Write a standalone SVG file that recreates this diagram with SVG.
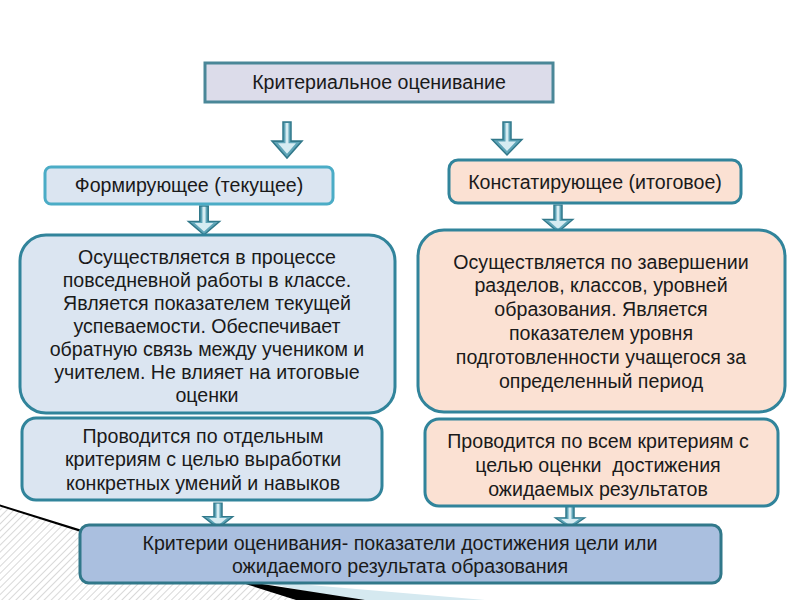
<svg xmlns="http://www.w3.org/2000/svg" width="800" height="600" viewBox="0 0 800 600">
<style>
  text { font-family: "Liberation Sans", Arial, sans-serif; font-size: 19.6px; fill: #1a1a1a; text-anchor: middle; }
  .blue { fill: #dbe5f1; stroke: #31849b; stroke-width: 3; }
  .peach { fill: #fbe1d3; stroke: #31849b; stroke-width: 3; }
  .arrow { fill: #5fa5b8; stroke: #31788a; stroke-width: 1.5; stroke-linejoin: miter; }
  .arrowin { fill: #d6ecf2; }
</style>
<defs>
  <pattern id="hatch" patternUnits="userSpaceOnUse" width="5" height="5" patternTransform="rotate(45)">
    <rect width="5" height="5" fill="#ffffff"/>
    <line x1="0" y1="0" x2="0" y2="5" stroke="#cfcfcf" stroke-width="1.6"/>
  </pattern>
  <g id="arr">
    <path class="arrow" d="M-4,0 H4 V18 H15 L0,34 L-15,18 H-4 Z"/>
    <path class="arrowin" d="M-1.5,1 H1.5 V20 H9 L0,30 L-9,20 H-1.5 Z"/>
  </g>
</defs>
<rect width="800" height="600" fill="#ffffff"/>
<g id="decoration">
  <polygon points="0,505 80,530 304,600 0,600" fill="url(#hatch)"/>
  <polygon points="250,580 485,600 350,600" fill="#d5e9f0"/>
  <polygon points="0,504.5 250,582 365,600 296,600 0,506.5" fill="#000000"/>
</g>
<g id="connectors">
  <use href="#arr" transform="translate(287,122) scale(1,1.06)"/>
  <use href="#arr" transform="translate(507,122) scale(1,0.97)"/>
  <use href="#arr" transform="translate(204,206) scale(1.05,0.85)"/>
  <use href="#arr" transform="translate(558,205) scale(1,0.8)"/>
  <use href="#arr" transform="translate(218,503) scale(1,0.75)"/>
  <use href="#arr" transform="translate(570,506) scale(1,0.65)"/>
</g>
<g id="top">
  <rect x="205" y="63" width="348" height="39" fill="#dcdcea" stroke="#4a8798" stroke-width="3"/>
  <text x="379" y="89">Критериальное оценивание</text>
</g>
<g id="formative">
  <rect x="45" y="167" width="288" height="37" rx="6" fill="#dbe5f1" stroke="#4bacc6" stroke-width="3"/>
  <text x="189" y="192">Формирующее (текущее)</text>
</g>
<g id="summative">
  <rect x="449" y="160" width="292" height="43" rx="9" class="peach"/>
  <text x="595" y="189">Констатирующее (итоговое)</text>
</g>
<g id="formative-desc">
  <rect x="20" y="235" width="375" height="178" rx="26" class="blue"/>
  <text x="207" y="264">Осуществляется в процессе</text>
  <text x="207" y="287">повседневной работы в классе.</text>
  <text x="207" y="310">Является показателем текущей</text>
  <text x="207" y="333">успеваемости. Обеспечивает</text>
  <text x="207" y="356">обратную связь между учеником и</text>
  <text x="207" y="379">учителем. Не влияет на итоговые</text>
  <text x="207" y="402">оценки</text>
</g>
<g id="summative-desc">
  <rect x="418" y="230" width="367" height="182" rx="26" class="peach"/>
  <text x="601" y="269">Осуществляется по завершении</text>
  <text x="601" y="292">разделов, классов, уровней</text>
  <text x="601" y="316">образования. Является</text>
  <text x="601" y="340">показателем уровня</text>
  <text x="601" y="364">подготовленности учащегося за</text>
  <text x="601" y="388">определенный период</text>
</g>
<g id="formative-criteria">
  <rect x="22" y="418" width="360" height="82" rx="14" class="blue"/>
  <text x="203" y="443">Проводится по отдельным</text>
  <text x="203" y="466">критериям с целью выработки</text>
  <text x="203" y="490">конкретных умений и навыков</text>
</g>
<g id="summative-criteria">
  <rect x="425" y="419" width="353" height="87" rx="14" class="peach"/>
  <text x="598" y="448">Проводится по всем критериям с</text>
  <text x="598" y="472" xml:space="preserve">целью оценки  достижения</text>
  <text x="598" y="496">ожидаемых результатов</text>
</g>
<g id="bottom">
  <rect x="80" y="525" width="641" height="58" rx="9" fill="#aabfdf" stroke="#31788a" stroke-width="3"/>
  <text x="400" y="550">Критерии оценивания- показатели достижения цели или</text>
  <text x="400" y="573">ожидаемого результата образования</text>
</g>
</svg>
